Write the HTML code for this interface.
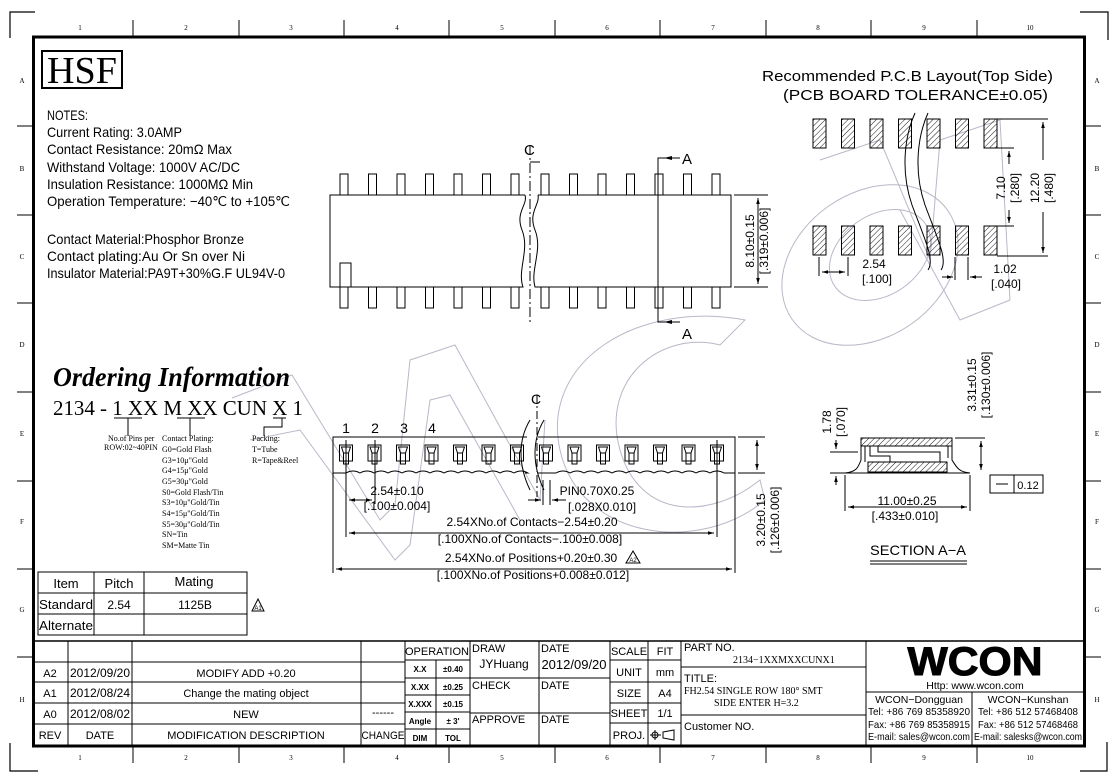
<!DOCTYPE html>
<html><head><meta charset="utf-8"><style>
html,body{margin:0;padding:0;background:#fff;}
svg{display:block;}
text{font-family:"Liberation Sans",sans-serif;fill:#000;}
.s{font-family:"Liberation Serif",serif;}
</style></head><body>
<svg width="1119" height="783" viewBox="0 0 1119 783" xmlns="http://www.w3.org/2000/svg">
<defs>
<pattern id="h" width="4" height="4" patternUnits="userSpaceOnUse" patternTransform="rotate(45)">
<line x1="0" y1="0" x2="0" y2="4" stroke="#000" stroke-width="0.9"/>
</pattern>
<marker id="ar" viewBox="0 0 10 10" refX="10" refY="5" markerWidth="8" markerHeight="6" orient="auto-start-reverse"><path d="M0,2 L10,5 L0,8 z" fill="#000"/></marker>
</defs>
<rect width="1119" height="783" fill="#fff"/>

<!-- watermark -->
<g fill="none" stroke="#b8b8c8" stroke-width="1">
<polyline points="232,398 292,375 380,520 395,505 410,360 455,345 540,500 545,420"/>
<polyline points="250,440 300,430 395,560 410,545 430,400 450,395 520,520"/>
<path d="M720,345 C660,330 600,380 620,450 C640,520 710,520 760,480 L765,500 C700,555 580,540 560,450 C540,360 640,300 745,320 Z"/>
<ellipse cx="870" cy="265" rx="95" ry="72" transform="rotate(-35 870 265)"/>
<ellipse cx="880" cy="255" rx="55" ry="40" transform="rotate(-35 880 255)"/>
<polyline points="820,160 880,140 930,260 940,140 1000,120 1010,300 960,320 900,210"/>
</g>

<!-- frame -->
<rect x="33.5" y="37" width="1051" height="709" fill="none" stroke="#000" stroke-width="3"/>
<g stroke="#000" stroke-width="1.2" fill="none">
<polyline points="35,12 10,12 10,38"/>
<polyline points="1080,12 1108,12 1108,40"/>
<polyline points="10,743 10,771 38,771"/>
<polyline points="1080,771 1107,771 1107,742"/>
</g>
<g stroke="#000" stroke-width="1">
<line x1="133" y1="20" x2="133" y2="36"/><line x1="239" y1="20" x2="239" y2="36"/><line x1="344" y1="20" x2="344" y2="36"/><line x1="449" y1="20" x2="449" y2="36"/><line x1="555" y1="20" x2="555" y2="36"/><line x1="660" y1="20" x2="660" y2="36"/><line x1="766" y1="20" x2="766" y2="36"/><line x1="871" y1="20" x2="871" y2="36"/><line x1="977" y1="20" x2="977" y2="36"/>
<line x1="133" y1="747" x2="133" y2="763"/><line x1="239" y1="747" x2="239" y2="763"/><line x1="344" y1="747" x2="344" y2="763"/><line x1="449" y1="747" x2="449" y2="763"/><line x1="555" y1="747" x2="555" y2="763"/><line x1="660" y1="747" x2="660" y2="763"/><line x1="766" y1="747" x2="766" y2="763"/><line x1="871" y1="747" x2="871" y2="763"/><line x1="977" y1="747" x2="977" y2="763"/>
<line x1="17" y1="126" x2="33" y2="126"/><line x1="17" y1="215" x2="33" y2="215"/><line x1="17" y1="303" x2="33" y2="303"/><line x1="17" y1="392" x2="33" y2="392"/><line x1="17" y1="481" x2="33" y2="481"/><line x1="17" y1="569" x2="33" y2="569"/><line x1="17" y1="657" x2="33" y2="657"/>
<line x1="1086" y1="126" x2="1101" y2="126"/><line x1="1086" y1="215" x2="1101" y2="215"/><line x1="1086" y1="303" x2="1101" y2="303"/><line x1="1086" y1="392" x2="1101" y2="392"/><line x1="1086" y1="481" x2="1101" y2="481"/><line x1="1086" y1="569" x2="1101" y2="569"/><line x1="1086" y1="657" x2="1101" y2="657"/>
</g>
<g font-size="7" class="s" text-anchor="middle" fill="#444">
<text class="s" x="80" y="30">1</text><text class="s" x="186" y="30">2</text><text class="s" x="291" y="30">3</text><text class="s" x="397" y="30">4</text><text class="s" x="502" y="30">5</text><text class="s" x="607" y="30">6</text><text class="s" x="713" y="30">7</text><text class="s" x="818" y="30">8</text><text class="s" x="924" y="30">9</text><text class="s" x="1030" y="30">10</text>
<text class="s" x="80" y="760">1</text><text class="s" x="186" y="760">2</text><text class="s" x="291" y="760">3</text><text class="s" x="397" y="760">4</text><text class="s" x="502" y="760">5</text><text class="s" x="607" y="760">6</text><text class="s" x="713" y="760">7</text><text class="s" x="818" y="760">8</text><text class="s" x="924" y="760">9</text><text class="s" x="1030" y="760">10</text>
<text class="s" x="22" y="83">A</text><text class="s" x="22" y="171">B</text><text class="s" x="22" y="259">C</text><text class="s" x="22" y="347">D</text><text class="s" x="22" y="436">E</text><text class="s" x="22" y="524">F</text><text class="s" x="22" y="612">G</text><text class="s" x="22" y="702">H</text>
<text class="s" x="1097" y="83">A</text><text class="s" x="1097" y="171">B</text><text class="s" x="1097" y="259">C</text><text class="s" x="1097" y="347">D</text><text class="s" x="1097" y="436">E</text><text class="s" x="1097" y="524">F</text><text class="s" x="1097" y="612">G</text><text class="s" x="1097" y="702">H</text>
</g>

<!-- HSF + notes -->
<rect x="42" y="51" width="80" height="37" fill="none" stroke="#000" stroke-width="2"/>
<text class="s" x="82" y="83" font-size="38" text-anchor="middle" textLength="70" lengthAdjust="spacingAndGlyphs">HSF</text>
<g font-size="14">
<text x="47" y="120" textLength="41" lengthAdjust="spacingAndGlyphs">NOTES:</text>
<text x="47" y="137" textLength="135" lengthAdjust="spacingAndGlyphs">Current Rating: 3.0AMP</text>
<text x="47" y="154" textLength="185" lengthAdjust="spacingAndGlyphs">Contact Resistance: 20mΩ Max</text>
<text x="47" y="172" textLength="193" lengthAdjust="spacingAndGlyphs">Withstand Voltage: 1000V AC/DC</text>
<text x="47" y="189" textLength="206" lengthAdjust="spacingAndGlyphs">Insulation Resistance: 1000MΩ Min</text>
<text x="47" y="206" textLength="243" lengthAdjust="spacingAndGlyphs">Operation Temperature: −40℃ to +105℃</text>
<text x="47" y="244" textLength="197" lengthAdjust="spacingAndGlyphs">Contact Material:Phosphor Bronze</text>
<text x="47" y="261" textLength="198" lengthAdjust="spacingAndGlyphs">Contact plating:Au Or Sn over Ni</text>
<text x="47" y="278" textLength="238" lengthAdjust="spacingAndGlyphs">Insulator Material:PA9T+30%G.F UL94V-0</text>
</g>

<!-- Ordering -->
<text class="s" x="53" y="386" font-size="27" font-weight="bold" font-style="italic" textLength="237" lengthAdjust="spacingAndGlyphs">Ordering Information</text>
<text class="s" x="53" y="415" font-size="21" textLength="250" lengthAdjust="spacing">2134 - 1 XX M XX CUN X 1</text>
<g stroke="#000" stroke-width="1" fill="none">
<line x1="114" y1="418" x2="142" y2="418"/><line x1="128" y1="418" x2="128" y2="436"/>
<line x1="177" y1="418" x2="205" y2="418"/><line x1="190" y1="418" x2="190" y2="436"/>
<line x1="273" y1="418" x2="286" y2="418"/><polyline points="282,418 282,427 264,427 264,436"/>
</g>
<g font-size="8" class="s">
<text class="s" x="108" y="441">No.of Pins per</text><text class="s" x="104" y="450">ROW:02~40PIN</text>
<text class="s" x="162" y="441">Contact Plating:</text>
<text class="s" x="162" y="452">G0=Gold Flash</text>
<text class="s" x="162" y="463">G3=10μ"Gold</text>
<text class="s" x="162" y="473">G4=15μ"Gold</text>
<text class="s" x="162" y="484">G5=30μ"Gold</text>
<text class="s" x="162" y="495">S0=Gold Flash/Tin</text>
<text class="s" x="162" y="505">S3=10μ"Gold/Tin</text>
<text class="s" x="162" y="516">S4=15μ"Gold/Tin</text>
<text class="s" x="162" y="527">S5=30μ"Gold/Tin</text>
<text class="s" x="162" y="537">SN=Tin</text>
<text class="s" x="162" y="548">SM=Matte Tin</text>
<text class="s" x="252" y="441">Packing:</text><text class="s" x="252" y="452">T=Tube</text><text class="s" x="252" y="463">R=Tape&amp;Reel</text>
</g>

<!-- mating table -->
<g stroke="#000" stroke-width="1" fill="none">
<rect x="38" y="572" width="209" height="63"/>
<line x1="38" y1="593" x2="247" y2="593"/><line x1="38" y1="614" x2="247" y2="614"/>
<line x1="94" y1="572" x2="94" y2="635"/><line x1="144" y1="572" x2="144" y2="635"/>
<path d="M252,611 L258,599 L264,611 Z"/>
</g>
<g font-size="13" text-anchor="middle">
<text x="66" y="588">Item</text><text x="119" y="588">Pitch</text><text x="194" y="586">Mating</text>
<text x="66" y="609" textLength="54" lengthAdjust="spacingAndGlyphs">Standard</text><text x="119" y="609" font-size="12">2.54</text><text x="195" y="609" font-size="12">1125B</text>
<text x="66" y="630" textLength="54" lengthAdjust="spacingAndGlyphs">Alternate</text>
<text x="258" y="610" font-size="6">A1</text>
</g>

<!-- TOP VIEW -->
<g stroke="#000" stroke-width="1" fill="none">
<path d="M525,195 L330,195 L330,287 L523,287 C517,270 530,250 522,230 C515,212 528,205 525,195"/>
<path d="M538,195 L731,195 L731,287 L535,287 C530,270 543,250 535,230 C528,212 540,205 538,195"/>
<rect x="340" y="263" width="11" height="24"/>
<g id="tp">
<rect x="340" y="174" width="8" height="21"/><rect x="368.5" y="174" width="8" height="21"/><rect x="397" y="174" width="8" height="21"/><rect x="425.5" y="174" width="8" height="21"/><rect x="454" y="174" width="8" height="21"/><rect x="482.5" y="174" width="8" height="21"/><rect x="511" y="174" width="8" height="21"/>
<rect x="541" y="174" width="8" height="21"/><rect x="569.5" y="174" width="8" height="21"/><rect x="598" y="174" width="8" height="21"/><rect x="626.5" y="174" width="8" height="21"/><rect x="655" y="174" width="8" height="21"/><rect x="683.5" y="174" width="8" height="21"/><rect x="712" y="174" width="8" height="21"/>
</g>
<use href="#tp" transform="translate(0,113)"/>
<line x1="530" y1="145" x2="530" y2="325" stroke-dasharray="10,3,2,3"/>
<polyline points="530,162 540,162"/>
<polyline points="680,158 658,158 658,322 680,322"/>
<line x1="734" y1="195" x2="768" y2="195"/><line x1="734" y1="287" x2="768" y2="287"/>
<line x1="758" y1="198" x2="758" y2="284" marker-start="url(#ar)" marker-end="url(#ar)"/>
</g>
<path d="M664,158 L672,156 L672,160 Z M664,322 L672,320 L672,324 Z"/>
<text x="524" y="155" font-size="15">C</text>
<text x="682" y="164" font-size="15">A</text>
<text x="682" y="339" font-size="15">A</text>
<g font-size="12" text-anchor="middle">
<text transform="translate(754,241) rotate(-90)">8.10±0.15</text>
<text transform="translate(768,241) rotate(-90)">[.319±0.006]</text>
</g>

<!-- FRONT VIEW -->
<g stroke="#000" stroke-width="1" fill="none">
<path d="M527,437 L333,437 L333,473 L346,473 q7,-4 14,0 q7,-4 14,0 q7,-4 14,0 q7,-4 14,0 q7,-4 14,0 q7,-4 14,0 q7,-4 14,0 q7,-4 14,0 q7,-4 14,0 q7,-4 14,0 q7,-4 14,0 q7,-4 14,0 q7,-4 14,0 L525,473"/>
<path d="M538,437 L735,437 L735,473 L724,473 q-7,-4 -14,0 q-7,-4 -14,0 q-7,-4 -14,0 q-7,-4 -14,0 q-7,-4 -14,0 q-7,-4 -14,0 q-7,-4 -14,0 q-7,-4 -14,0 q-7,-4 -14,0 q-7,-4 -14,0 q-7,-4 -14,0 q-7,-4 -14,0 L538,473"/>
<path d="M530,420 C518,440 518,465 530,490 M544,420 C532,440 532,465 544,490"/>
<line x1="537" y1="395" x2="537" y2="497" stroke-dasharray="8,3,2,3"/>
<g id="sq">
<rect x="339.5" y="445" width="13" height="16"/><path d="M341.5,447 L350.5,447 L348.5,453 L343.5,453 Z M343.5,453 L343.5,464 L348.5,464 L348.5,453"/>
</g>
<use href="#sq" x="28.5"/><use href="#sq" x="57"/><use href="#sq" x="85.5"/><use href="#sq" x="114"/><use href="#sq" x="142.5"/><use href="#sq" x="171"/>
<use href="#sq" x="200"/><use href="#sq" x="228.5"/><use href="#sq" x="257"/><use href="#sq" x="285.5"/><use href="#sq" x="314"/><use href="#sq" x="342.5"/><use href="#sq" x="371"/>
<line x1="346" y1="440" x2="346" y2="537"/><line x1="375" y1="440" x2="375" y2="504"/><line x1="717" y1="440" x2="717" y2="537"/>
<line x1="333" y1="473" x2="333" y2="573"/><line x1="735" y1="473" x2="735" y2="573"/>
<line x1="349" y1="500" x2="372" y2="500" marker-start="url(#ar)" marker-end="url(#ar)"/>
<line x1="349" y1="533" x2="714" y2="533" marker-start="url(#ar)" marker-end="url(#ar)"/>
<line x1="336" y1="569" x2="732" y2="569" marker-start="url(#ar)" marker-end="url(#ar)"/>
<line x1="543" y1="480" x2="543" y2="505"/><line x1="550" y1="480" x2="550" y2="505"/>
<line x1="528" y1="500" x2="541" y2="500" marker-end="url(#ar)"/><line x1="566" y1="500" x2="552" y2="500" marker-end="url(#ar)"/>
<line x1="738" y1="437" x2="765" y2="437"/><line x1="738" y1="473" x2="765" y2="473"/>
<line x1="757" y1="440" x2="757" y2="470" marker-start="url(#ar)" marker-end="url(#ar)"/>
<path d="M626,563 L633,551 L640,563 Z"/>
</g>
<text x="531" y="404" font-size="14">C</text>
<g font-size="14" text-anchor="middle"><text x="346" y="433">1</text><text x="375" y="433">2</text><text x="404" y="433">3</text><text x="432" y="433">4</text></g>
<g font-size="12" text-anchor="middle">
<text x="397" y="495">2.54±0.10</text><text x="397" y="510">[.100±0.004]</text>
<text x="597" y="495">PIN0.70X0.25</text><text x="602" y="511">[.028X0.010]</text>
<text x="532" y="526">2.54XNo.of Contacts−2.54±0.20</text><text x="530" y="543">[.100XNo.of Contacts−.100±0.008]</text>
<text x="531" y="562">2.54XNo.of Positions+0.20±0.30</text><text x="533" y="579">[.100XNo.of Positions+0.008±0.012]</text>
<text x="633" y="562" font-size="6">A2</text>
<text transform="translate(765,520) rotate(-90)">3.20±0.15</text>
<text transform="translate(779,520) rotate(-90)">[.126±0.006]</text>
</g>

<!-- PCB layout -->
<g font-size="15" text-anchor="end">
<text x="1053" y="81" textLength="291" lengthAdjust="spacingAndGlyphs">Recommended P.C.B Layout(Top Side)</text>
<text x="1048" y="100" textLength="265" lengthAdjust="spacingAndGlyphs">(PCB BOARD TOLERANCE±0.05)</text>
</g>
<g stroke="#000" stroke-width="1" fill="url(#h)">
<g id="pads"><rect x="813" y="119" width="13" height="29"/><rect x="841.5" y="119" width="13" height="29"/><rect x="870" y="119" width="13" height="29"/><rect x="898.5" y="119" width="13" height="29"/><rect x="927" y="119" width="13" height="29"/><rect x="955.5" y="119" width="13" height="29"/><rect x="984" y="119" width="13" height="29"/></g>
<use href="#pads" y="107"/>
</g>
<g stroke="#000" stroke-width="1" fill="none">
<path d="M915,113 C905,135 900,170 912,205 C925,240 935,260 928,270"/>
<path d="M928,113 C918,135 913,170 925,205 C938,240 948,260 941,270"/>
<line x1="997" y1="119" x2="1048" y2="119"/><line x1="997" y1="256" x2="1048" y2="256"/>
<line x1="997" y1="148" x2="1014" y2="148"/><line x1="997" y1="226" x2="1014" y2="226"/>
<line x1="1009" y1="151" x2="1009" y2="164" marker-start="url(#ar)"/><line x1="1009" y1="210" x2="1009" y2="223" marker-end="url(#ar)"/>
<line x1="1043" y1="122" x2="1043" y2="160" marker-start="url(#ar)"/><line x1="1043" y1="212" x2="1043" y2="253" marker-end="url(#ar)"/>
<line x1="819" y1="257" x2="819" y2="276"/><line x1="848" y1="257" x2="848" y2="276"/>
<line x1="822" y1="272" x2="845" y2="272" marker-start="url(#ar)" marker-end="url(#ar)"/>
<line x1="955" y1="257" x2="955" y2="280"/><line x1="968" y1="257" x2="968" y2="280"/>
<line x1="942" y1="277" x2="953" y2="277" marker-end="url(#ar)"/><line x1="982" y1="277" x2="970" y2="277" marker-end="url(#ar)"/>
</g>
<g font-size="12" text-anchor="middle">
<text transform="translate(1005,188) rotate(-90)">7.10</text><text transform="translate(1019,188) rotate(-90)">[.280]</text>
<text transform="translate(1039,188) rotate(-90)">12.20</text><text transform="translate(1053,188) rotate(-90)">[.480]</text>
<text x="874" y="268">2.54</text><text x="877" y="283">[.100]</text>
<text x="1005" y="273">1.02</text><text x="1006" y="288">[.040]</text>
</g>

<!-- Section A-A -->
<g stroke="#000" stroke-width="1">
<rect x="861" y="438" width="91" height="8" fill="url(#h)"/>
<rect x="868" y="462" width="79" height="10" fill="url(#h)"/>
<g fill="none">
<path d="M861,446 L861,460 C858,468 856,472 845,473 L970,473 C959,472 957,468 952,460 L952,446"/>
<path d="M865,446 L865,462 M870,446 L870,456 L890,456 L890,462 M878,446 L878,452 L940,452 L940,462 M948,446 L948,458"/>
<line x1="955" y1="438" x2="985" y2="438"/>
<line x1="981" y1="441" x2="981" y2="470" marker-start="url(#ar)" marker-end="url(#ar)"/>
<line x1="830" y1="452" x2="858" y2="452"/><line x1="830" y1="473" x2="845" y2="473"/>
<line x1="836" y1="440" x2="836" y2="449" marker-end="url(#ar)"/><line x1="836" y1="485" x2="836" y2="476" marker-end="url(#ar)"/>
<line x1="845" y1="475" x2="845" y2="511"/><line x1="970" y1="475" x2="970" y2="511"/>
<line x1="848" y1="507" x2="967" y2="507" marker-start="url(#ar)" marker-end="url(#ar)"/>
<rect x="990" y="475" width="24" height="18"/><rect x="1014" y="475" width="29" height="18"/>
<line x1="996" y1="484" x2="1008" y2="484"/>
<line x1="870" y1="561" x2="967" y2="561"/><line x1="870" y1="564" x2="967" y2="564"/>
</g></g>
<g font-size="12" text-anchor="middle">
<text transform="translate(976,385) rotate(-90)">3.31±0.15</text><text transform="translate(990,385) rotate(-90)">[.130±0.006]</text>
<text transform="translate(831,422) rotate(-90)">1.78</text><text transform="translate(845,422) rotate(-90)">[.070]</text>
<text x="907" y="505">11.00±0.25</text><text x="905" y="520">[.433±0.010]</text>
<text x="1028" y="489" font-size="11">0.12</text>
<text x="918" y="555" font-size="14" textLength="96" lengthAdjust="spacingAndGlyphs">SECTION A−A</text>
</g>

<!-- title block -->
<g stroke="#000" stroke-width="1" fill="none">
<line x1="33" y1="641" x2="1085" y2="641" stroke-width="1.5"/>
<line x1="33" y1="662" x2="405" y2="662"/><line x1="33" y1="682" x2="405" y2="682"/><line x1="33" y1="703" x2="405" y2="703"/><line x1="33" y1="724" x2="405" y2="724"/>
<line x1="68" y1="641" x2="68" y2="746"/><line x1="132" y1="641" x2="132" y2="746"/><line x1="361" y1="641" x2="361" y2="746"/><line x1="405" y1="641" x2="405" y2="746"/>
<line x1="405" y1="660" x2="470" y2="660"/><line x1="405" y1="678" x2="470" y2="678"/><line x1="405" y1="695" x2="470" y2="695"/><line x1="405" y1="712" x2="470" y2="712"/><line x1="405" y1="729" x2="470" y2="729"/>
<line x1="436" y1="660" x2="436" y2="746"/>
<line x1="470" y1="641" x2="470" y2="746"/><line x1="539" y1="641" x2="539" y2="746"/><line x1="610" y1="641" x2="610" y2="746"/><line x1="648" y1="641" x2="648" y2="746"/><line x1="681" y1="641" x2="681" y2="746"/>
<line x1="470" y1="678" x2="610" y2="678"/><line x1="470" y1="713" x2="610" y2="713"/>
<line x1="610" y1="660" x2="681" y2="660"/><line x1="610" y1="682" x2="681" y2="682"/><line x1="610" y1="703" x2="681" y2="703"/><line x1="610" y1="723" x2="681" y2="723"/>
<line x1="681" y1="667" x2="866" y2="667"/><line x1="681" y1="715" x2="866" y2="715"/>
<line x1="866" y1="641" x2="866" y2="746"/><line x1="866" y1="692" x2="1085" y2="692"/><line x1="972" y1="692" x2="972" y2="746"/>
<circle cx="655" cy="735" r="3"/><line x1="650" y1="735" x2="661" y2="735"/><line x1="655" y1="730" x2="655" y2="740"/>
<path d="M663,732 L674,730 L674,740 L663,738 Z"/>
</g>
<g font-size="11" text-anchor="middle">
<text x="50" y="677">A2</text><text x="100" y="677" font-size="12">2012/09/20</text><text x="246" y="677">MODIFY ADD +0.20</text>
<text x="50" y="697">A1</text><text x="100" y="697" font-size="12">2012/08/24</text><text x="246" y="697">Change the mating object</text>
<text x="50" y="718">A0</text><text x="100" y="718" font-size="12">2012/08/02</text><text x="246" y="718">NEW</text><text x="383" y="716">------</text>
<text x="50" y="739">REV</text><text x="100" y="739">DATE</text><text x="246" y="739">MODIFICATION DESCRIPTION</text><text x="383" y="739" textLength="43" lengthAdjust="spacingAndGlyphs">CHANGE</text>
<text x="437" y="655">OPERATION</text>
<g font-size="8" font-weight="bold"><text x="420" y="672">X.X</text><text x="453" y="672">±0.40</text><text x="420" y="690">X.XX</text><text x="453" y="690">±0.25</text><text x="420" y="707">X.XXX</text><text x="453" y="707">±0.15</text><text x="420" y="724">Angle</text><text x="453" y="724">± 3'</text><text x="420" y="741">DIM</text><text x="453" y="741">TOL</text></g>
<text x="504" y="668" font-size="12">JYHuang</text>
<text x="574" y="669" font-size="13">2012/09/20</text>
<text x="629" y="655">SCALE</text><text x="665" y="655">FIT</text>
<text x="629" y="676">UNIT</text><text x="665" y="676">mm</text>
<text x="629" y="697">SIZE</text><text x="665" y="697">A4</text>
<text x="629" y="717">SHEET</text><text x="665" y="717">1/1</text>
<text x="629" y="739">PROJ.</text>
</g>
<g font-size="11">
<text x="472" y="652">DRAW</text><text x="541" y="652">DATE</text>
<text x="472" y="689">CHECK</text><text x="541" y="689">DATE</text>
<text x="472" y="723">APPROVE</text><text x="541" y="723">DATE</text>
<text x="684" y="651">PART NO.</text>
<text x="684" y="682">TITLE:</text>
<text x="684" y="730">Customer NO.</text>
</g>
<g font-size="10" class="s">
<text class="s" x="733" y="663">2134−1XXMXXCUNX1</text>
<text class="s" x="684" y="694">FH2.54 SINGLE ROW 180° SMT</text>
<text class="s" x="714" y="706">SIDE ENTER H=3.2</text>
</g>
<text x="975" y="675" font-size="40" font-weight="bold" text-anchor="middle" fill="#222" textLength="135" lengthAdjust="spacingAndGlyphs" stroke="#000" stroke-width="1">WCON</text>
<g font-size="10.5" text-anchor="middle">
<text x="975" y="689">Http: www.wcon.com</text>
<text x="919" y="703">WCON−Dongguan</text><text x="1028" y="703">WCON−Kunshan</text>
<text x="919" y="715" textLength="102" lengthAdjust="spacingAndGlyphs">Tel: +86 769 85358920</text><text x="1028" y="715" textLength="100" lengthAdjust="spacingAndGlyphs">Tel: +86 512 57468408</text>
<text x="919" y="728" textLength="102" lengthAdjust="spacingAndGlyphs">Fax: +86 769 85358915</text><text x="1028" y="728" textLength="100" lengthAdjust="spacingAndGlyphs">Fax: +86 512 57468468</text>
<text x="919" y="740" textLength="102" lengthAdjust="spacingAndGlyphs">E-mail: sales@wcon.com</text><text x="1028" y="740" textLength="108" lengthAdjust="spacingAndGlyphs">E-mail: salesks@wcon.com</text>
</g>
</svg>
</body></html>
